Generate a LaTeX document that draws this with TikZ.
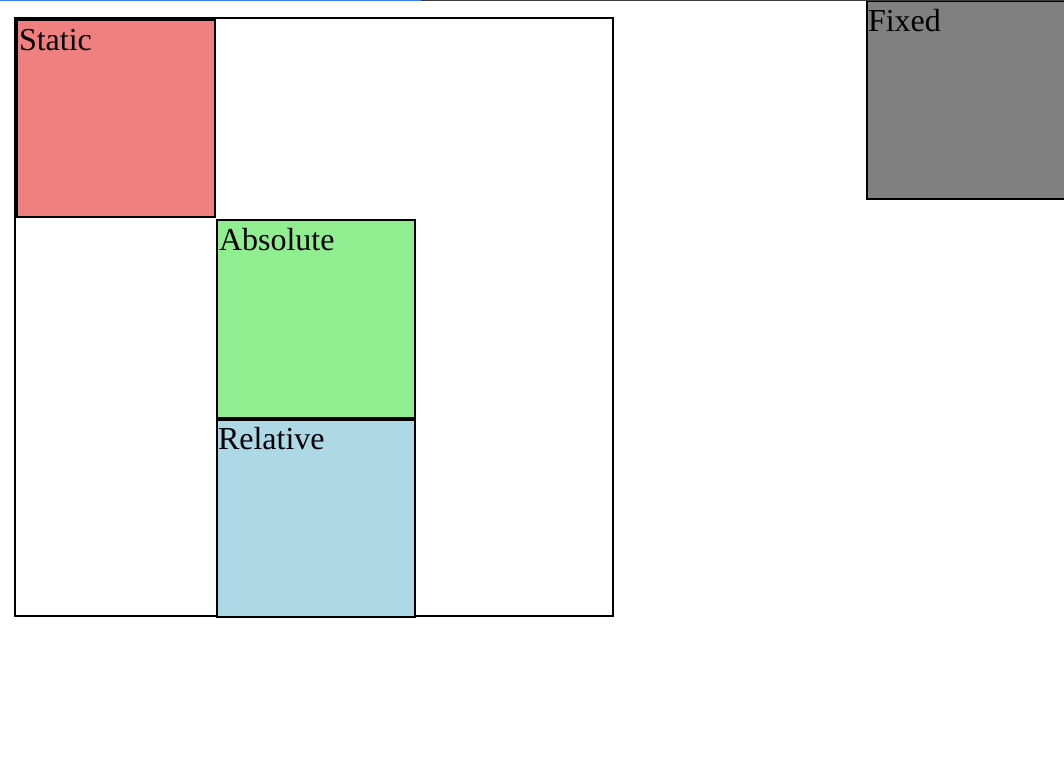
\documentclass[tikz,border=0pt]{standalone}
\usepackage{fontspec}
\setmainfont{Liberation Serif}
\definecolor{cstatic}{HTML}{F08080}
\definecolor{cabs}{HTML}{90EE90}
\definecolor{crel}{HTML}{ADD8E6}
\definecolor{cfixed}{HTML}{808080}
\definecolor{topblue}{HTML}{3A7FE6}
\definecolor{topgray}{HTML}{3C3C3C}
\begin{document}
\begin{tikzpicture}[x=0.75pt,y=-0.75pt,
  box/.style={draw=black,line width=1.5pt,anchor=north west,outer sep=0pt,inner sep=0pt,minimum width=148.5pt,minimum height=148.5pt},
  lbl/.style={anchor=base west,inner sep=0pt,outer sep=0pt,font=\fontsize{24}{28}\selectfont}]
\useasboundingbox (0,0) rectangle (1064,768);
\fill[white] (0,0) rectangle (1064,768);
\node[box,minimum width=448.5pt,minimum height=448.5pt] (container) at (15,18) {};
\node[box,fill=cstatic,minimum height=147.75pt] (static) at (17,19.5) {};
\node[box,fill=cabs] (absolute) at (217,220) {};
\node[box,fill=crel,minimum height=147.6pt] (relative) at (217,419.8) {};
\node[box,fill=cfixed] (fixed) at (867,1) {};
\node[lbl] (tstatic) at (19,50) {Static};
\node[lbl] (tabs) at (219,250) {Absolute};
\node[lbl] (trel) at (218,449) {Relative};
\node[lbl] (tfixed) at (868,31) {Fixed};
\fill[topblue] (0,0) rectangle (421,1.4);
\fill[topgray] (421,0) rectangle (1064,1.4);
\end{tikzpicture}
\end{document}
